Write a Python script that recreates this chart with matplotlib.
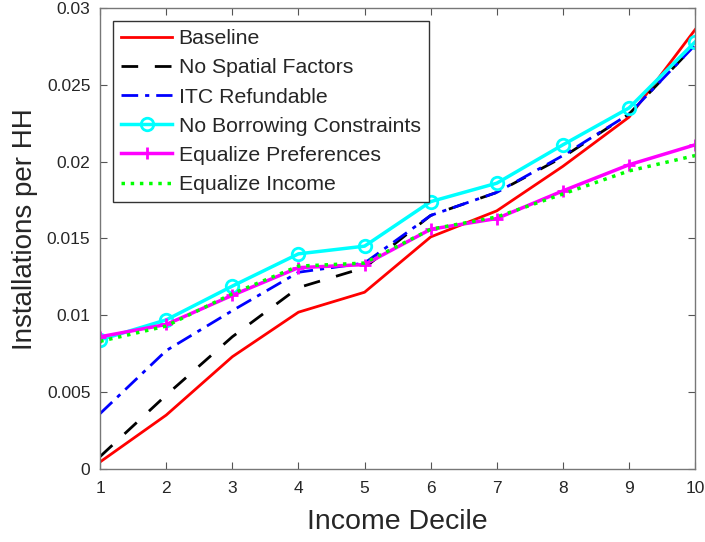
import matplotlib as mpl
mpl.use('agg')
import matplotlib.pyplot as plt
import numpy as np

plt.rcParams['font.family'] = ['Liberation Sans', 'DejaVu Sans']

decile = np.arange(1, 11)
baseline = [0.00045, 0.0035, 0.0073, 0.0102, 0.0115, 0.0151, 0.0168, 0.0197, 0.0229, 0.0286]
no_spatial = [0.0008, 0.0048, 0.0086, 0.0118, 0.0131, 0.0165, 0.0180, 0.0203, 0.0231, 0.0276]
itc_refund = [0.0036, 0.0077, 0.0103, 0.0128, 0.0134, 0.0165, 0.0180, 0.0204, 0.0231, 0.0276]
no_borrow = [0.0084, 0.0097, 0.0119, 0.0140, 0.0145, 0.0174, 0.0186, 0.0211, 0.0235, 0.0278]
eq_prefs = [0.0086, 0.0094, 0.0113, 0.0131, 0.0133, 0.0156, 0.0163, 0.0181, 0.0198, 0.0211]
eq_income = [0.0083, 0.0093, 0.0114, 0.0132, 0.0134, 0.0156, 0.0164, 0.0179, 0.0194, 0.0204]

txt = '#262626'
fig = plt.figure(figsize=(7.05, 5.42), dpi=100)
ax = fig.add_axes([0.142, 0.135, 0.844, 0.850])

ax.plot(decile, baseline, '-', color='#ff0000', lw=2, label='Baseline')
ax.plot(decile, no_spatial, '--', color='k', lw=2, dashes=(6, 6), label='No Spatial Factors')
ax.plot(decile, itc_refund, '-.', color='#0000ff', lw=2, dashes=(6, 2.5, 1.5, 2.5), label='ITC Refundable')
ax.plot(decile, no_borrow, '-', color='#00ffff', lw=2.5, marker='o', ms=9, mfc='none', mew=2,
        label='No Borrowing Constraints')
ax.plot(decile, eq_prefs, '-', color='#ff00ff', lw=2.5, marker='+', ms=9, mew=2,
        label='Equalize Preferences')
ax.plot(decile, eq_income, ':', color='#00ff00', lw=2.5, label='Equalize Income')

ax.set_xlim(1, 10)
ax.set_ylim(0, 0.03)
ax.set_xticks(decile)
ax.set_yticks([0, 0.005, 0.01, 0.015, 0.02, 0.025, 0.03])
ax.set_yticklabels(['0', '0.005', '0.01', '0.015', '0.02', '0.025', '0.03'])
ax.tick_params(direction='in', top=True, right=True, length=5, width=0.8,
               color='#555555', labelcolor=txt, labelsize=12.5)
ax.tick_params(axis='x', pad=9)
ax.tick_params(axis='y', pad=7)
for s in ax.spines.values():
    s.set_color('#777777')
    s.set_linewidth(1)

ax.set_xlabel('Income Decile', fontsize=20.5, color=txt, labelpad=9)
ax.set_ylabel('Installations per HH', fontsize=20, color=txt, labelpad=8)
ax.yaxis.set_label_coords(-0.105, 0.52)

leg = ax.legend(loc='upper left', bbox_to_anchor=(0.022, 0.972), fontsize=15.3,
                handlelength=2.4, handletextpad=0.3, labelspacing=0.48,
                borderpad=0.38, borderaxespad=0, fancybox=False, framealpha=1,
                edgecolor='#333333')
for t in leg.get_texts():
    t.set_color(txt)
leg.get_frame().set_linewidth(1)

fig.savefig('out.png', dpi=100)
